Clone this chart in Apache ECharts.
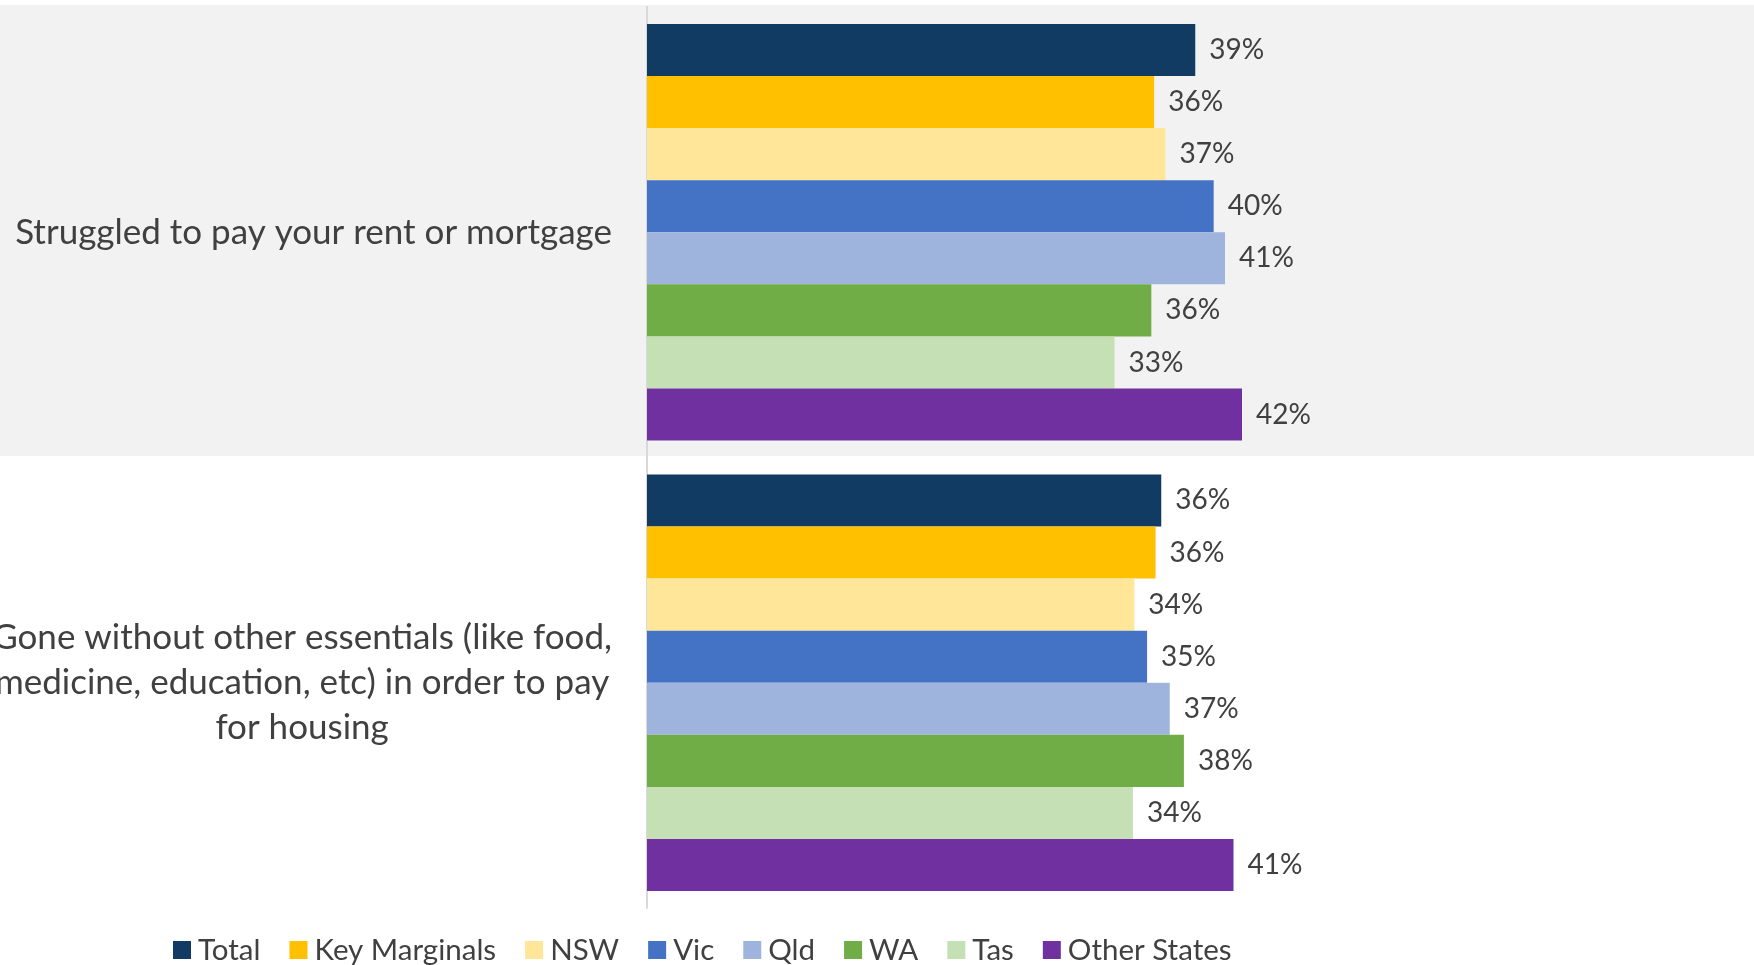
<!DOCTYPE html>
<html>
<head>
<meta charset="utf-8">
<script src="https://cdn.jsdelivr.net/npm/echarts@6/dist/echarts.min.js"></script>
<style>
html,body{margin:0;padding:0;background:#fff;}
#chart{width:1754px;height:965px;}
</style>
</head>
<body>
<div id="chart"></div>
<script>
const categories = [
  'Struggled to pay your rent or mortgage',
  'Gone without other essentials (like food,\nmedicine, education, etc) in order to pay\nfor housing'
];
const seriesNames = ['Total', 'Key Marginals', 'NSW', 'Vic', 'Qld', 'WA', 'Tas', 'Other States'];
const total        = [38.7, 36.3];
const keyMarginals = [35.8, 35.9];
const nsw          = [36.6, 34.4];
const vic          = [40.0, 35.3];
const qld          = [40.8, 36.9];
const wa           = [35.6, 37.9];
const tas          = [33.0, 34.3];
const otherStates  = [42.0, 41.4];
const seriesValues = [total, keyMarginals, nsw, vic, qld, wa, tas, otherStates];
const colors = ['#123b64', '#ffc000', '#ffe699', '#4472c4', '#9eb4dc', '#70ad47', '#c5e0b4', '#7030a0'];

const FONT = 'Lato';
const TXT = '#404040';

const chart = echarts.init(document.getElementById('chart'), null, {renderer: 'canvas'});

const series = seriesNames.map((name, i) => ({
  name: name,
  type: 'bar',
  xAxisIndex: 0,
  yAxisIndex: 0,
  data: seriesValues[i],
  barGap: '0%',
  barCategoryGap: '7.5%',
  itemStyle: {color: colors[i]},
  label: {
    show: true,
    position: 'right',
    distance: 14,
    color: TXT,
    fontFamily: FONT,
    fontSize: 28,
    padding: [4, 0, 0, 0],
    formatter: p => Math.round(p.value) + '%'
  },
  emphasis: {disabled: true}
}));

chart.setOption({
  animation: false,
  backgroundColor: '#ffffff',
  color: colors,
  grid: [
    {left: 647, right: 2, top: 7, bottom: 57, containLabel: false, outerBoundsMode: 'none'},
    {left: 0, right: 0, top: 5, bottom: 58, containLabel: false, outerBoundsMode: 'none'}
  ],
  xAxis: [
    {type: 'value', gridIndex: 0, min: 0, max: 78, show: false},
    {type: 'value', gridIndex: 1, min: 0, max: 1, show: false}
  ],
  yAxis: [
    {
      type: 'category', gridIndex: 0, data: categories, inverse: true,
      axisLine: {show: true, lineStyle: {color: '#d9d9d9', width: 2}},
      axisTick: {show: false},
      splitLine: {show: false},
      axisLabel: {
        align: 'right', margin: 35,
        hideOverlap: false,
        formatter: v => v.split('\n').map(s => '{c|' + s + '}').join('\n'),
        rich: {
          c: {align: 'center', color: TXT, fontFamily: FONT, fontSize: 35, lineHeight: 45, padding: [0, 0, 0, 0]}
        }
      }
    },
    {
      type: 'category', gridIndex: 1, data: categories, inverse: true,
      axisLine: {show: false}, axisTick: {show: false}, axisLabel: {show: false},
      splitLine: {show: false},
      splitArea: {show: true, areaStyle: {color: ['#f2f2f2', 'rgba(255,255,255,0)']}}
    }
  ],
  legend: {
    data: seriesNames,
    left: 168,
    top: 930,
    icon: 'rect',
    itemWidth: 18,
    itemHeight: 18,
    itemGap: 29,
    textStyle: {color: TXT, fontFamily: FONT, fontSize: 29.5, padding: [0, 0, 0, 2]}
  },
  series: series
});
</script>
</body>
</html>
